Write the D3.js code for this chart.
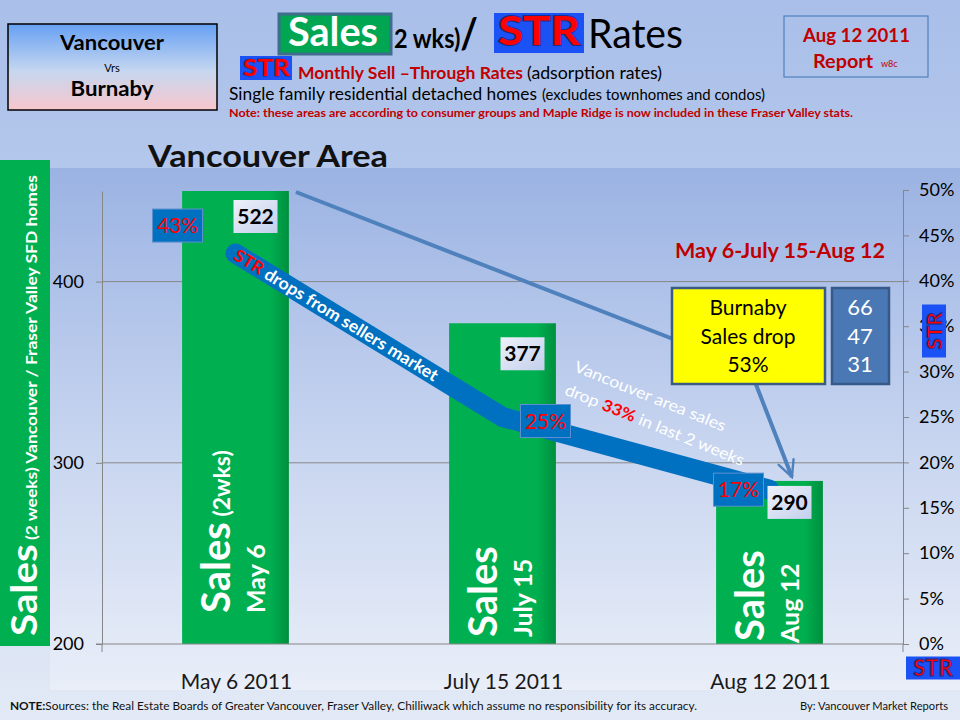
<!DOCTYPE html>
<html><head><meta charset="utf-8">
<script src="https://cdn.jsdelivr.net/npm/d3@7"></script>
<style>
html,body{margin:0;padding:0;background:#fff;}
svg{display:block;}
text{font-family:Lato,"Open Sans","Noto Sans",sans-serif;}
</style></head>
<body>
<svg id="chart" width="960" height="720"></svg>
<script>
// ---------- data ----------
const categories = ["May 6 2011", "July 15 2011", "Aug 12 2011"];
const salesValues = [522, 377, 290];
const strRates = [0.43, 0.25, 0.17];
const salesTicks = [200, 300, 400];
const strTicks = [0, 0.05, 0.10, 0.15, 0.20, 0.25, 0.30, 0.35, 0.40, 0.45, 0.50];
const barMainText = ["Sales", "Sales", "Sales"];
const barSubText = ["(2wks)", "", ""];
const barDateText = ["May 6", "July 15", "Aug 12"];
const burnabySales = [66, 47, 31];
const burnabyLines = ["Burnaby", "Sales drop", "53%"];

// ---------- layout ----------
const plotL = 102, plotR = 903, plotT = 191, plotB = 644;
const strLabelOffsets = [[-58, -28], [43, 4], [-31, 0]];
const barTextLift = [31, 7, 3];
const dateTextLift = [31, 7, 1];

const svg = d3.select("#chart");
const defs = svg.append("defs");

function lin(id, x2, y2, stops) {
  const g = defs.append("linearGradient").attr("id", id)
    .attr("x1", 0).attr("y1", 0).attr("x2", x2).attr("y2", y2);
  stops.forEach(s => g.append("stop").attr("offset", s[0]).attr("stop-color", s[1]));
}
lin("bgGrad", 0, 1, [[0, "#a9bfe9"], [0.5, "#c0d0ee"], [1, "#e3eaf6"]]);
lin("plotGrad", 0, 1, [[0, "#9bb3e3"], [0.55, "#c9d6f0"], [1, "#e9eef8"]]);
lin("barGrad", 1, 0, [[0, "#00b050"], [0.82, "#00b050"], [1, "#008f3e"]]);
lin("vrsGrad", 0, 1, [[0, "#66a0f4"], [0.55, "#c6d7ef"], [1, "#f8c6cd"]]);
lin("valGrad", 1, 1, [[0, "#eef1fa"], [1, "#c3cfec"]]);

defs.append("clipPath").attr("id", "plotClip").append("rect")
  .attr("x", plotL).attr("y", plotT).attr("width", plotR - plotL).attr("height", plotB - plotT);

const mk = defs.append("marker").attr("id", "arrowHead")
  .attr("viewBox", "0 0 10 10").attr("refX", 9).attr("refY", 5)
  .attr("markerWidth", 5).attr("markerHeight", 5).attr("orient", "auto")
  .attr("markerUnits", "strokeWidth");
mk.append("path").attr("d", "M1,1 L9,5 L1,9").attr("fill", "none")
  .attr("stroke", "#4f81bd").attr("stroke-width", 1.2).attr("stroke-linecap", "round");

function fit(sel, w) { sel.attr("textLength", w).attr("lengthAdjust", "spacingAndGlyphs"); return sel; }

// ---------- backgrounds ----------
svg.append("rect").attr("width", 960).attr("height", 720).attr("fill", "url(#bgGrad)");
svg.append("rect").attr("x", 50).attr("y", 168).attr("width", 910).attr("height", 522).attr("fill", "url(#plotGrad)");

// ---------- scales ----------
const x = d3.scaleBand().domain(categories).range([plotL, plotR]).paddingInner(0.6).paddingOuter(0.3);
const yL = d3.scaleLinear().domain([200, 450]).range([plotB, plotT]);
const yR = d3.scaleLinear().domain([0, 0.5]).range([plotB, 190]);

// gridlines
svg.append("g").selectAll("line").data(salesTicks.filter(d => d > 200)).join("line")
  .attr("x1", plotL).attr("x2", plotR).attr("y1", d => yL(d)).attr("y2", d => yL(d))
  .attr("stroke", "#878787").attr("stroke-width", 1);

// ---------- bars ----------
const bars = svg.append("g").attr("clip-path", "url(#plotClip)");
bars.selectAll("rect").data(salesValues).join("rect")
  .attr("x", (d, i) => x(categories[i]))
  .attr("width", x.bandwidth())
  .attr("y", d => yL(d))
  .attr("height", d => yL(200) - yL(d))
  .attr("fill", "url(#barGrad)");

// in-bar rotated text
categories.forEach((c, i) => {
  const bx = x(c);
  const t = svg.append("text")
    .attr("transform", `translate(${bx + 48},${yL(200) - barTextLift[i]}) rotate(-90)`)
    .attr("fill", "#fff").attr("font-weight", "bold");
  t.append("tspan").attr("font-size", 40).text(barMainText[i]);
  if (barSubText[i]) t.append("tspan").attr("font-size", 23).text(" " + barSubText[i]);
  svg.append("text")
    .attr("transform", `translate(${bx + 83},${yL(200) - dateTextLift[i]}) rotate(-90)`)
    .attr("fill", "#fff").attr("font-weight", "bold").attr("font-size", 25)
    .text(barDateText[i]);
});

// ---------- axes ----------
const axL = svg.append("g").attr("transform", `translate(${plotL},0)`)
  .call(d3.axisLeft(yL).tickValues(salesTicks).tickSize(6).tickSizeOuter(0).tickPadding(12));
const axR = svg.append("g").attr("transform", `translate(${plotR},0)`)
  .call(d3.axisRight(yR).tickValues(strTicks).tickSize(6).tickSizeOuter(0).tickPadding(10)
    .tickFormat(d3.format(".0%")));
[axL, axR].forEach(a => {
  a.selectAll("path,line").attr("stroke", "#868686");
  a.selectAll("text").attr("font-family", "'Liberation Serif','DejaVu Serif',serif")
    .attr("font-size", 18).attr("fill", "#000");
});
svg.append("line").attr("x1", 96).attr("x2", plotR).attr("y1", plotB).attr("y2", plotB).attr("stroke", "#868686");
svg.append("line").attr("x1", plotL).attr("x2", plotL).attr("y1", plotB).attr("y2", 652).attr("stroke", "#868686");
svg.append("line").attr("x1", plotR).attr("x2", plotR).attr("y1", plotB).attr("y2", 652).attr("stroke", "#868686");

// category labels
svg.append("g").selectAll("text").data(categories).join("text")
  .attr("x", d => x(d) + x.bandwidth() / 2 + 1).attr("y", 689)
  .attr("text-anchor", "middle").attr("font-size", 21).attr("fill", "#1a1a1a")
  .text(d => d);

// ---------- thin arrow connector ----------
const cx1 = x(categories[0]) + x.bandwidth() + 7, cy1 = plotT + 1;
const cxTip = x(categories[2]) + x.bandwidth() * 0.71, cyTip = yL(salesValues[2]) - 4;
svg.append("path")
  .attr("d", `M${cx1},${cy1} L${cxTip - 42},${cyTip - 108} L${cxTip},${cyTip}`)
  .attr("fill", "none").attr("stroke", "#4f81bd").attr("stroke-width", 4)
  .attr("marker-end", "url(#arrowHead)");

// ---------- STR thick line ----------
const pts = strRates.map((r, i) => [x(categories[i]) + x.bandwidth() / 2, yR(r)]);
const lineGen = d3.line().curve(d3.curveLinear);
svg.append("path").attr("id", "strPath").attr("d", lineGen(pts))
  .attr("fill", "none").attr("stroke", "#0070c0").attr("stroke-width", 20)
  .attr("stroke-linecap", "round").attr("stroke-linejoin", "round");

const lt = svg.append("text").attr("font-weight", "bold").attr("font-size", 17).attr("dy", 6);
const tp = lt.append("textPath").attr("href", "#strPath").attr("startOffset", 0);
fit(tp, 236);
tp.append("tspan").attr("fill", "#ff0000").text("STR");
tp.append("tspan").attr("fill", "#fff").text(" drops from sellers market");

// STR value boxes
strRates.forEach((r, i) => {
  const cx = pts[i][0] + strLabelOffsets[i][0], cy = pts[i][1] + strLabelOffsets[i][1];
  svg.append("rect").attr("x", cx - 25).attr("y", cy - 16.5).attr("width", 50).attr("height", 33)
    .attr("fill", "#0070c0").attr("stroke", "#5b8fd0").attr("stroke-width", 1);
  svg.append("text").attr("x", cx).attr("y", cy + 7.5).attr("text-anchor", "middle")
    .attr("font-size", 21).attr("fill", "#ff0000").text(d3.format(".0%")(r));
});

// sales value boxes
salesValues.forEach((v, i) => {
  const cx = x(categories[i]) + x.bandwidth() / 2 + 20;
  const top = Math.max(yL(v), plotT) + [9, 14, 5][i];
  svg.append("rect").attr("x", cx - 22).attr("y", top).attr("width", 44).attr("height", 33)
    .attr("fill", "url(#valGrad)");
  svg.append("text").attr("x", cx).attr("y", top + 24).attr("text-anchor", "middle")
    .attr("font-size", 21).attr("font-weight", "bold").attr("fill", "#000").text(v);
});

// Vancouver drop text
const vg = svg.append("g").attr("transform", "translate(573,371) rotate(22)")
  .attr("fill", "#fff").attr("font-size", 16);
fit(vg.append("text").attr("x", 0).attr("y", 0).text("Vancouver area sales"), 162);
const v2 = vg.append("text").attr("x", 0).attr("y", 25);
v2.append("tspan").text("drop ");
v2.append("tspan").attr("fill", "#ff0000").attr("font-weight", "bold").text("33%");
v2.append("tspan").text(" in last 2 weeks");
fit(v2, 192);

// ---------- Burnaby boxes ----------
svg.append("rect").attr("x", 672).attr("y", 288).attr("width", 153).attr("height", 96)
  .attr("fill", "#ffff00").attr("stroke", "#3b5b85").attr("stroke-width", 2.5);
svg.append("g").selectAll("text").data(burnabyLines).join("text")
  .attr("x", 748).attr("y", (d, i) => [315, 344, 372][i]).attr("text-anchor", "middle")
  .attr("font-size", 21).attr("fill", "#000").text(d => d);
svg.append("rect").attr("x", 832).attr("y", 288).attr("width", 57).attr("height", 96)
  .attr("fill", "#4a78b5").attr("stroke", "#36598a").attr("stroke-width", 2.5);
svg.append("g").selectAll("text").data(burnabySales).join("text")
  .attr("x", 860).attr("y", (d, i) => [315, 344, 372][i]).attr("text-anchor", "middle")
  .attr("font-size", 22).attr("fill", "#fff").text(d => d);

fit(svg.append("text").attr("x", 780).attr("y", 258).attr("text-anchor", "middle")
  .attr("font-size", 20).attr("font-weight", "bold").attr("fill", "#c00000")
  .text("May 6-July 15-Aug 12"), 210);

// STR badges
function strBadge(cx, cy, w, h, fs, rot) {
  const g = svg.append("g").attr("transform", `translate(${cx},${cy}) rotate(${rot})`);
  g.append("rect").attr("x", -w / 2).attr("y", -h / 2).attr("width", w).attr("height", h).attr("fill", "#1a52f5");
  g.append("text").attr("x", 0).attr("y", fs * 0.36).attr("text-anchor", "middle")
    .attr("font-family", "'Liberation Sans',Arial,sans-serif").attr("font-weight", "bold")
    .attr("font-size", fs).attr("fill", "#ff0000").attr("stroke", "#1b2c8c").attr("stroke-width", fs / 22)
    .text("STR");
  return g;
}
strBadge(934, 331, 53, 24, 21, -90);
strBadge(933, 668, 54, 23, 22, 0);

// ---------- left vertical label ----------
svg.append("rect").attr("x", 0).attr("y", 160).attr("width", 50).attr("height", 486).attr("fill", "#00b050");
const yl = svg.append("text").attr("transform", "translate(37,636) rotate(-90)")
  .attr("fill", "#fff").attr("font-weight", "bold");
yl.append("tspan").attr("font-size", 37).text("Sales");
yl.append("tspan").attr("font-size", 16).text(" (2 weeks)  Vancouver /  Fraser Valley SFD homes");
fit(yl, 461);

// ---------- titles ----------
fit(svg.append("text").attr("x", 148).attr("y", 167).attr("font-size", 30).attr("font-weight", "bold")
  .attr("fill", "#111").text("Vancouver Area"), 240);

// Vancouver vrs Burnaby box
svg.append("rect").attr("x", 8).attr("y", 24).attr("width", 209).attr("height", 86)
  .attr("fill", "url(#vrsGrad)").attr("stroke", "#000").attr("stroke-width", 1.5);
fit(svg.append("text").attr("x", 112).attr("y", 50).attr("text-anchor", "middle").attr("font-size", 20)
  .attr("font-weight", "bold").text("Vancouver"), 104);
svg.append("text").attr("x", 112).attr("y", 72).attr("text-anchor", "middle").attr("font-size", 11).text("Vrs");
fit(svg.append("text").attr("x", 112).attr("y", 96).attr("text-anchor", "middle").attr("font-size", 20)
  .attr("font-weight", "bold").text("Burnaby"), 83);

// main title
svg.append("rect").attr("x", 279).attr("y", 14).attr("width", 112).attr("height", 40)
  .attr("fill", "#00a651").attr("stroke", "#3f6d8e").attr("stroke-width", 3);
fit(svg.append("text").attr("x", 288).attr("y", 46).attr("font-size", 40).attr("font-weight", "bold")
  .attr("fill", "#fff").text("Sales"), 90);
const t2 = svg.append("text").attr("x", 394).attr("y", 48).attr("font-weight", "bold").attr("fill", "#000");
t2.append("tspan").attr("font-size", 26).text("2 wks)");
t2.append("tspan").attr("font-size", 42).text("/");
fit(t2, 84);
svg.append("rect").attr("x", 494).attr("y", 13).attr("width", 90).attr("height", 40).attr("fill", "#1a52f5");
fit(svg.append("text").attr("x", 498).attr("y", 45).attr("font-family", "'Liberation Sans',Arial,sans-serif")
  .attr("font-size", 41).attr("font-weight", "bold").attr("fill", "#ff0000")
  .attr("stroke", "#1b2c8c").attr("stroke-width", 2).attr("paint-order", "stroke").text("STR"), 82);
fit(svg.append("text").attr("x", 588).attr("y", 48).attr("font-size", 41).attr("fill", "#000").text("Rates"), 95);

// line 2
svg.append("rect").attr("x", 240).attr("y", 56).attr("width", 52).attr("height", 24).attr("fill", "#1a52f5");
fit(svg.append("text").attr("x", 243).attr("y", 76).attr("font-family", "'Liberation Sans',Arial,sans-serif")
  .attr("font-size", 23).attr("font-weight", "bold").attr("fill", "#ff0000")
  .attr("stroke", "#1b2c8c").attr("stroke-width", 1).attr("paint-order", "stroke").text("STR"), 47);
fit(svg.append("text").attr("x", 298).attr("y", 79).attr("font-size", 17).attr("font-weight", "bold")
  .attr("fill", "#c00000").text("Monthly Sell \u2013Through Rates"), 225);
fit(svg.append("text").attr("x", 527).attr("y", 79).attr("font-size", 17).attr("fill", "#000")
  .text("(adsorption rates)"), 135);

// line 3
fit(svg.append("text").attr("x", 229).attr("y", 100).attr("font-size", 17).attr("fill", "#000")
  .text("Single family residential detached homes"), 308);
fit(svg.append("text").attr("x", 542).attr("y", 100).attr("font-size", 14.5).attr("fill", "#000")
  .text("(excludes townhomes  and condos)"), 223);

// line 4
fit(svg.append("text").attr("x", 229).attr("y", 117).attr("font-size", 10.5).attr("font-weight", "bold")
  .attr("fill", "#c00000")
  .text("Note: these areas are according  to consumer groups and Maple  Ridge is now included in these Fraser Valley stats."), 624);

// report box
svg.append("rect").attr("x", 784).attr("y", 16).attr("width", 144).attr("height", 61)
  .attr("fill", "none").attr("stroke", "#4f81bd").attr("stroke-width", 1.2);
fit(svg.append("text").attr("x", 803).attr("y", 42).attr("font-size", 19).attr("font-weight", "bold")
  .attr("fill", "#c00000").text("Aug 12 2011"), 107);
fit(svg.append("text").attr("x", 813).attr("y", 68).attr("font-size", 19).attr("font-weight", "bold")
  .attr("fill", "#c00000").text("Report"), 60);
svg.append("text").attr("x", 881).attr("y", 67).attr("font-size", 9).attr("fill", "#c00000").text("w8c");

// footer
const ft = svg.append("text").attr("x", 10).attr("y", 710).attr("font-size", 11).attr("fill", "#111");
ft.append("tspan").attr("font-weight", "bold").text("NOTE:");
ft.append("tspan").text("Sources: the Real Estate Boards of Greater Vancouver,  Fraser Valley, Chilliwack which assume no responsibility for its accuracy.");
fit(ft, 687);
fit(svg.append("text").attr("x", 800).attr("y", 710).attr("font-size", 11).attr("fill", "#111")
  .text("By: Vancouver Market Reports"), 148);
</script>
</body></html>
